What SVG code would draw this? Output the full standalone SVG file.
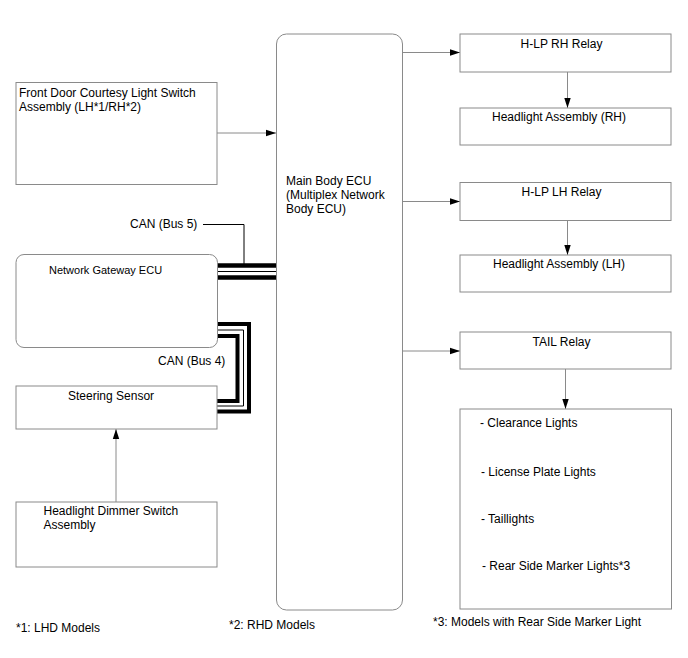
<svg xmlns="http://www.w3.org/2000/svg" width="688" height="658" viewBox="0 0 688 658">
<style>
.box{fill:#fff;stroke:#8a8a8a;stroke-width:1}
.t{font-family:"Liberation Sans",Arial,sans-serif;font-size:12px;fill:#000}
.s{font-size:11px}
.c{text-anchor:middle}
.ln{fill:none;stroke:#8a8a8a;stroke-width:1}
.bk{fill:none;stroke:#000}
</style>
<defs>
<marker id="ah" markerWidth="10" markerHeight="8" refX="10" refY="4" orient="auto" markerUnits="userSpaceOnUse">
<path d="M0,0.8 L10,4 L0,7.2 Z" fill="#000"/>
</marker>
</defs>
<rect width="688" height="658" fill="#fff"/>

<g id="connectors">
<line class="ln" x1="217" y1="133" x2="276" y2="133" marker-end="url(#ah)"/>
<line class="ln" x1="403" y1="52.5" x2="460" y2="52.5" marker-end="url(#ah)"/>
<line class="ln" x1="403" y1="201.5" x2="460" y2="201.5" marker-end="url(#ah)"/>
<line class="ln" x1="403" y1="351" x2="460" y2="351" marker-end="url(#ah)"/>
<line class="ln" x1="567.5" y1="72" x2="567.5" y2="108" marker-end="url(#ah)"/>
<line class="ln" x1="567.5" y1="220" x2="567.5" y2="255" marker-end="url(#ah)"/>
<line class="ln" x1="565.5" y1="369" x2="565.5" y2="409" marker-end="url(#ah)"/>
<line class="ln" x1="116" y1="502" x2="116" y2="429" marker-end="url(#ah)"/>
<g id="bus5">
<path class="bk" stroke-width="1" d="M203,224.5 H244 V264"/>
<line class="bk" stroke-width="4.5" x1="217" y1="265.5" x2="276" y2="265.5"/>
<line class="bk" stroke-width="1" x1="217" y1="271.5" x2="276" y2="271.5"/>
<line class="bk" stroke-width="4.5" x1="217" y1="277.5" x2="276" y2="277.5"/>
</g>
<g id="bus4">
<path class="bk" stroke-width="4" d="M217,324 H249 V411.5 H217"/>
<path class="bk" stroke-width="1" d="M217,330 H243.5 V406 H217"/>
<path class="bk" stroke-width="4" d="M217,336 H237.5 V401 H217"/>
</g>
</g>

<g id="front-door">
<rect class="box" x="16" y="82.5" width="201" height="102"/>
<text class="t" x="19" y="97">Front Door Courtesy Light Switch</text>
<text class="t" x="19" y="110.5">Assembly (LH*1/RH*2)</text>
</g>
<g id="main-body-ecu">
<rect class="box" x="276.5" y="34" width="126" height="576" rx="10" ry="10"/>
<text class="t" x="286" y="185">Main Body ECU</text>
<text class="t" x="286" y="199">(Multiplex Network</text>
<text class="t" x="286" y="213">Body ECU)</text>
</g>
<g id="network-gateway">
<rect class="box" x="16" y="254.5" width="201.5" height="93" rx="8" ry="8"/>
<text class="t s" x="49" y="274">Network Gateway ECU</text>
</g>
<g id="steering-sensor">
<rect class="box" x="16" y="386" width="201" height="43"/>
<text class="t" x="68" y="399.5">Steering Sensor</text>
</g>
<g id="dimmer-switch">
<rect class="box" x="16" y="502" width="201" height="65"/>
<text class="t" x="43.5" y="515">Headlight Dimmer Switch</text>
<text class="t" x="43.5" y="529">Assembly</text>
</g>
<g id="hlp-rh-relay">
<rect class="box" x="460" y="34" width="211" height="38"/>
<text class="t c" x="561.5" y="48">H-LP RH Relay</text>
</g>
<g id="headlight-rh">
<rect class="box" x="460" y="108" width="211" height="37"/>
<text class="t c" x="559" y="121">Headlight Assembly (RH)</text>
</g>
<g id="hlp-lh-relay">
<rect class="box" x="460" y="182.5" width="211" height="38"/>
<text class="t c" x="561.5" y="196">H-LP LH Relay</text>
</g>
<g id="headlight-lh">
<rect class="box" x="460" y="255" width="211" height="37"/>
<text class="t c" x="559" y="268">Headlight Assembly (LH)</text>
</g>
<g id="tail-relay">
<rect class="box" x="460" y="332" width="211" height="37"/>
<text class="t c" x="561.5" y="345.5">TAIL Relay</text>
</g>
<g id="tail-lights">
<rect class="box" x="460" y="409" width="211.5" height="200"/>
<text class="t" x="480" y="427">- Clearance Lights</text>
<text class="t" x="481" y="476">- License Plate Lights</text>
<text class="t" x="481" y="523">- Taillights</text>
<text class="t" x="482" y="570">- Rear Side Marker Lights*3</text>
</g>

<text class="t" x="130" y="228">CAN (Bus 5)</text>
<text class="t" x="158" y="364.5">CAN (Bus 4)</text>
<text class="t" x="16" y="631.5">*1: LHD Models</text>
<text class="t" x="229" y="628.5">*2: RHD Models</text>
<text class="t" x="433" y="625.5">*3: Models with Rear Side Marker Light</text>
</svg>
